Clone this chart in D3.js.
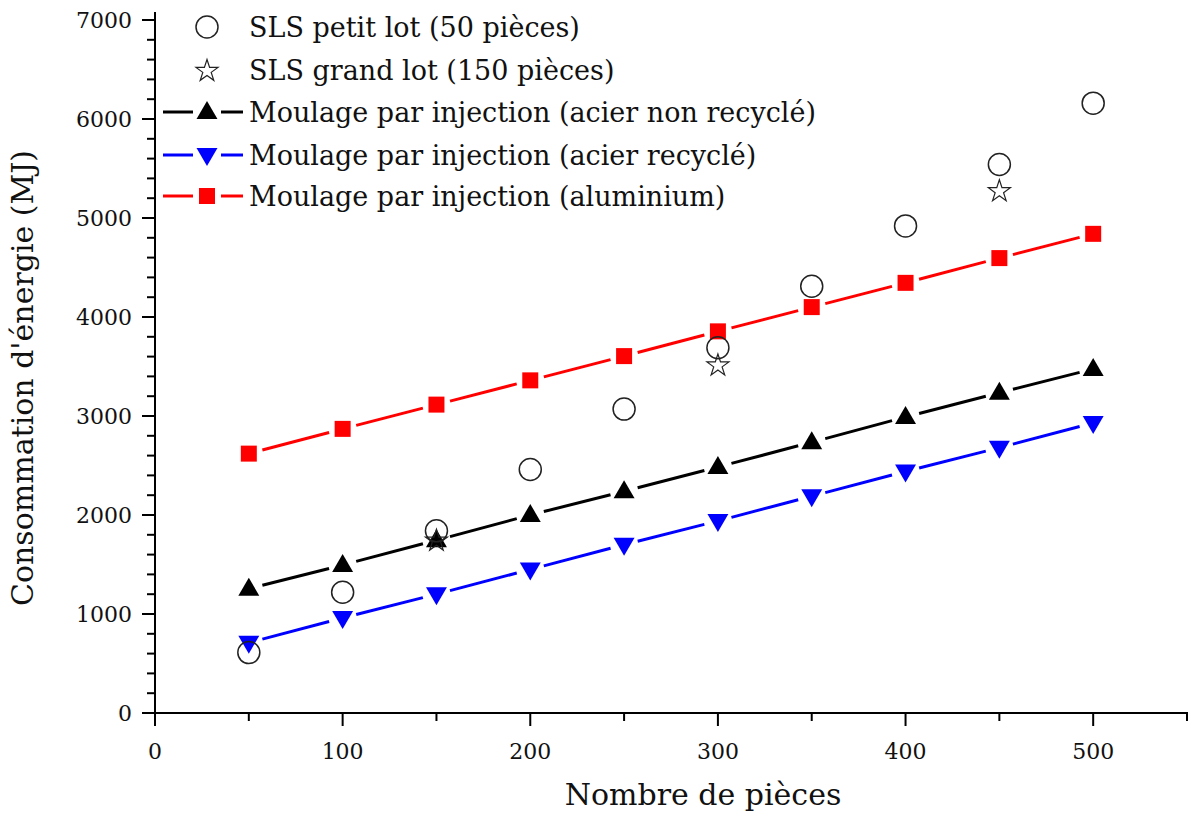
<!DOCTYPE html>
<html><head><meta charset="utf-8">
<script src="https://cdn.jsdelivr.net/npm/d3@7/dist/d3.min.js"></script>
<style>body{margin:0;background:#fff}svg{display:block}text{font-family:"DejaVu Serif",serif;fill:#111}</style>
</head><body><svg id="c" width="1188" height="814"></svg>
<script>
const pieces = [50,100,150,200,250,300,350,400,450,500];
const slsPetit = [610,1220,1840,2460,3070,3690,4310,4920,5540,6160];
const slsGrandX = [150,300,450];
const slsGrand = [1750,3520,5280];
const acierNonRecycle = [1255,1495,1745,2000,2240,2485,2735,2990,3235,3475];
const acierRecycle = [710,960,1200,1450,1700,1940,2190,2440,2680,2930];
const aluminium = [2620,2870,3115,3360,3605,3855,4100,4345,4595,4840];
const xTicks = [0,100,200,300,400,500];
const yTicks = [0,1000,2000,3000,4000,5000,6000,7000];
const labels = ["SLS petit lot (50 pièces)","SLS grand lot (150 pièces)","Moulage par injection (acier non recyclé)","Moulage par injection (acier recyclé)","Moulage par injection (aluminium)"];

const svg = d3.select("#c");
const x = d3.scaleLinear().domain([0,550]).range([155,1187]);
const y = d3.scaleLinear().domain([0,7000]).range([713,20]);

// axes
const ax = svg.append("g");
ax.append("line").attr("x1",143).attr("x2",1188).attr("y1",713).attr("y2",713).attr("stroke","#000").attr("stroke-width",2);
ax.append("line").attr("x1",155).attr("x2",155).attr("y1",12).attr("y2",714).attr("stroke","#000").attr("stroke-width",2);
d3.range(0,551,50).forEach(v=>{
  const maj = v%100===0;
  ax.append("line").attr("x1",x(v)).attr("x2",x(v)).attr("y1",713).attr("y2",713+(maj?13:8)).attr("stroke","#000").attr("stroke-width",2);
});
d3.range(0,7001,200).forEach(v=>{
  const maj = v%1000===0;
  ax.append("line").attr("x1",155).attr("x2",155-(maj?13:8)).attr("y1",y(v)).attr("y2",y(v)).attr("stroke","#000").attr("stroke-width",2);
});
ax.selectAll(".xl").data(xTicks).join("text").attr("x",d=>x(d)).attr("y",759).attr("text-anchor","middle").attr("font-size",22).text(d=>d);
ax.selectAll(".yl").data(yTicks).join("text").attr("x",132).attr("y",d=>y(d)+8).attr("text-anchor","end").attr("font-size",22).text(d=>d);
svg.append("text").attr("x",703).attr("y",805).attr("text-anchor","middle").attr("font-size",30).text("Nombre de pièces");
svg.append("text").attr("transform","translate(33,378) rotate(-90)").attr("text-anchor","middle").attr("font-size",30).text("Consommation d'énergie (MJ)");

// marker shapes
const sym = {
  up: d3.symbol().type(d3.symbolTriangle).size(190),
  down: d3.symbol().type(d3.symbolTriangle).size(190),
  square: d3.symbol().type(d3.symbolSquare).size(256),
  star: d3.symbol().type(d3.symbolStar).size(150)
};
function gappedLine(g, pts, color, gap){
  for(let i=0;i<pts.length-1;i++){
    const [x1,y1]=pts[i],[x2,y2]=pts[i+1];
    const dx=x2-x1, dy=y2-y1, L=Math.hypot(dx,dy);
    const ux=dx/L, uy=dy/L;
    g.append("line").attr("x1",x1+ux*gap).attr("y1",y1+uy*gap).attr("x2",x2-ux*gap).attr("y2",y2-uy*gap)
      .attr("stroke",color).attr("stroke-width",3);
  }
}
const series = [
  {vals:aluminium,color:"#f00",shape:"square"},
  {vals:acierNonRecycle,color:"#000",shape:"up"},
  {vals:acierRecycle,color:"#00f",shape:"down"}
];
function drawMarker(g, shape, color, cx, cy){
  if(shape==="down") g.append("path").attr("d",sym.down()).attr("transform",`translate(${cx},${cy-1}) rotate(180)`).attr("fill",color);
  else if(shape==="up") g.append("path").attr("d",sym.up()).attr("transform",`translate(${cx},${cy+1})`).attr("fill",color);
  else g.append("path").attr("d",sym[shape]()).attr("transform",`translate(${cx},${cy})`).attr("fill",color);
}
const plot = svg.append("g");
series.forEach(s=>{
  const pts = pieces.map((p,i)=>[x(p),y(s.vals[i])]);
  gappedLine(plot, pts, s.color, 14);
  pts.forEach(p=>drawMarker(plot, s.shape, s.color, p[0], p[1]));
});
plot.selectAll(".c").data(pieces).join("circle").attr("cx",d=>x(d)).attr("cy",(d,i)=>y(slsPetit[i])).attr("r",11)
  .attr("fill","none").attr("stroke","#222").attr("stroke-width",1.5);
plot.selectAll(".s").data(slsGrandX).join("path").attr("d",sym.star()).attr("transform",(d,i)=>`translate(${x(d)},${y(slsGrand[i])+1})`)
  .attr("fill","none").attr("stroke","#222").attr("stroke-width",1.2);

// legend
const lg = svg.append("g");
const rowsY = [27,70,112,155,196];
lg.append("circle").attr("cx",207).attr("cy",rowsY[0]).attr("r",11).attr("fill","none").attr("stroke","#222").attr("stroke-width",1.5);
lg.append("path").attr("d",sym.star()).attr("transform",`translate(207,${rowsY[1]+1})`).attr("fill","none").attr("stroke","#222").attr("stroke-width",1.2);
[series[1],series[2],series[0]].forEach((s,i)=>{
  const yy = rowsY[i+2];
  lg.append("line").attr("x1",163).attr("x2",193).attr("y1",yy).attr("y2",yy).attr("stroke",s.color).attr("stroke-width",3);
  lg.append("line").attr("x1",221).attr("x2",243).attr("y1",yy).attr("y2",yy).attr("stroke",s.color).attr("stroke-width",3);
  drawMarker(lg, s.shape, s.color, 207, yy);
});
lg.selectAll(".t").data(labels).join("text").attr("x",249).attr("y",(d,i)=>rowsY[i]+10).attr("font-size",27).text(d=>d);
</script></body></html>
